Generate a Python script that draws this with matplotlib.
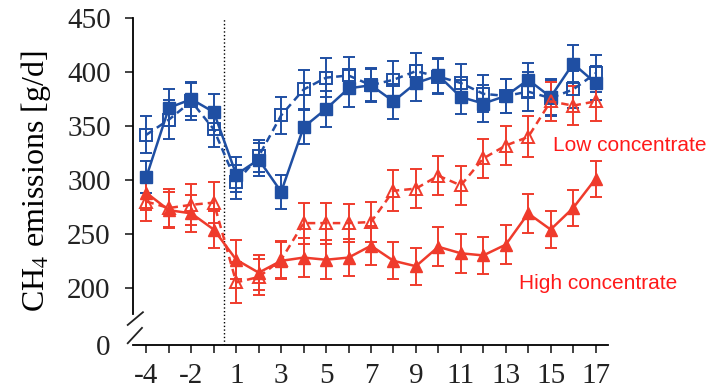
# -*- coding: UTF-8 -*-

import matplotlib
matplotlib.use("Agg")
import matplotlib.pyplot as plt

days = [-4, -3, -2, -1, 1, 2, 3, 4, 5, 6, 7, 8, 9, 10, 11, 12, 13, 14, 15, 16, 17]
tick_labels = [str(d) if i % 2 == 0 else "" for i, d in enumerate(days)]

# blue, filled squares (solid line)
blue_fill = [303, 367, 375, 363, 305, 319, 289, 349, 366, 385, 388, 373, 390, 397, 377, 371, 378, 393, 377, 408, 390]
blue_fill_err = [15, 17, 16, 17, 16, 15, 16, 16, 17, 17, 15, 16, 17, 16, 16, 17, 16, 16, 17, 17, 16]
# blue, open squares (dashed line)
blue_open = [342, 356, 373, 347, 298, 322, 360, 384, 395, 397, 388, 393, 401, 396, 390, 380, 378, 382, 376, 384, 399]
blue_open_err = [17, 18, 17, 16, 16, 15, 17, 18, 18, 17, 16, 17, 17, 16, 18, 17, 16, 18, 17, 17, 17]
# red, filled triangles (solid line)
red_fill = [288, 272, 269, 254, 226, 214, 225, 228, 226, 228, 239, 225, 220, 238, 232, 230, 240, 269, 254, 274, 301]
red_fill_err = [16, 17, 17, 17, 18, 16, 17, 18, 18, 17, 18, 17, 17, 18, 18, 17, 18, 18, 17, 17, 17]
# red, open triangles (dashed line)
red_open = [280, 274, 277, 279, 205, 210, 226, 260, 260, 260, 261, 290, 292, 304, 295, 320, 332, 340, 373, 369, 373]
red_open_err = [18, 18, 19, 19, 19, 17, 17, 19, 19, 18, 19, 19, 18, 18, 18, 18, 18, 19, 18, 18, 18]

BLUE = "#1f4fa3"
RED = "#ef3b2c"

plt.rcParams["font.family"] = ["Liberation Serif", "DejaVu Serif"]
plt.rcParams["mathtext.fontset"] = "stix"

fig = plt.figure(figsize=(7.11, 3.91), dpi=100)
ax = fig.add_axes([0.187, 0.118, 0.668, 0.835])

x = list(range(len(days)))

common = dict(capsize=4, elinewidth=1.4, capthick=1.4, lw=1.8, ms=8, clip_on=False)
ax.errorbar(x, blue_fill, yerr=blue_fill_err, color=BLUE, marker="s",
            linestyle="-", **common)
ax.errorbar(x, blue_open, yerr=blue_open_err, color=BLUE, marker="s", mfc="none",
            mew=1.4, linestyle=(0, (3, 2)), **common)
ax.errorbar(x, red_fill, yerr=red_fill_err, color=RED, marker="^",
            linestyle="-", **common)
ax.errorbar(x, red_open, yerr=red_open_err, color=RED, marker="^", mfc="none",
            mew=1.4, linestyle=(0, (3, 2)), **common)

# start of treatment
ax.axvline(3.45, color="black", linestyle=":", linewidth=1.0)

ax.set_xlim(-0.6, 20.55)
ax.set_ylim(147, 450)

ax.set_xticks(x, labels=tick_labels)
ax.set_yticks([147, 200, 250, 300, 350, 400, 450],
              labels=["0", "200", "250", "300", "350", "400", "450"])
ax.yaxis.get_major_ticks()[0].tick1line.set_visible(False)
ax.tick_params(axis="both", labelsize=21, length=6, width=1.2, colors="#222222")
ax.tick_params(axis="y", pad=10)
ax.tick_params(axis="x", pad=7)

for s in ["top", "right"]:
    ax.spines[s].set_visible(False)
ax.spines["left"].set_linewidth(1.3)
ax.spines["bottom"].set_linewidth(1.3)
ax.spines["left"].set_bounds(176, 450)

# axis break marks
ax.plot([-0.011, 0.021], [0.061, 0.100], transform=ax.transAxes, color="#222222",
        lw=1.3, clip_on=False)
ax.plot([-0.011, 0.019], [0.005, 0.052], transform=ax.transAxes, color="#222222",
        lw=1.3, clip_on=False)

ax.set_ylabel("CH$_4$ emissions [g/d]", fontsize=23, labelpad=10)

ax.text(18.1, 332, "Low concentrate", color="#ff1a1a", fontsize=15,
        family=["Liberation Sans", "DejaVu Sans"], ha="left", va="center")
ax.text(16.6, 204, "High concentrate", color="#ff1a1a", fontsize=15,
        family=["Liberation Sans", "DejaVu Sans"], ha="left", va="center")

fig.savefig("out.png", dpi=100)
